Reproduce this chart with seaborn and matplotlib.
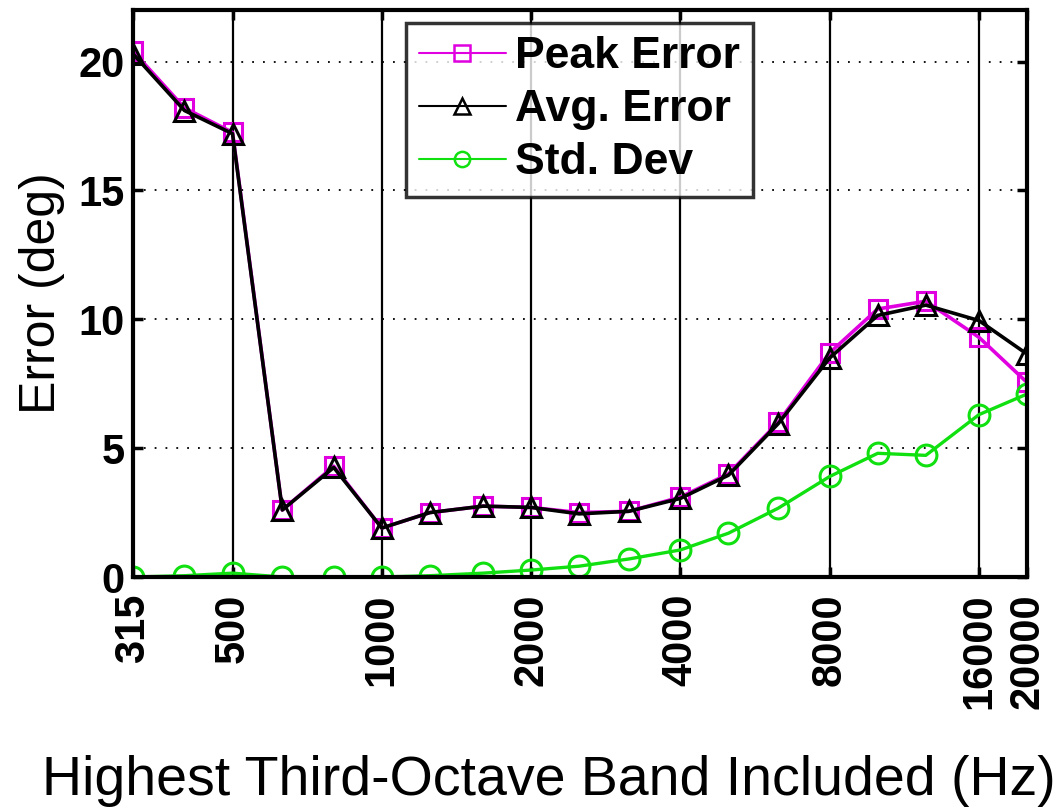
import matplotlib
matplotlib.use("Agg")
import matplotlib.pyplot as plt
from matplotlib.ticker import FixedLocator, NullLocator
import pandas as pd
import seaborn as sns

# Highest third-octave band centre frequency included (Hz)
bands = [315, 400, 500, 630, 800, 1000, 1250, 1600, 2000, 2500,
         3150, 4000, 5000, 6300, 8000, 10000, 12500, 16000, 20000]

peak_error = [20.4, 18.2, 17.25, 2.6, 4.3, 1.9, 2.5, 2.75, 2.7, 2.5,
              2.55, 3.1, 4.0, 6.0, 8.7, 10.4, 10.7, 9.3, 7.55]
avg_error = [20.3, 18.1, 17.2, 2.6, 4.25, 1.9, 2.5, 2.75, 2.7, 2.45,
             2.55, 3.05, 3.95, 5.95, 8.5, 10.15, 10.55, 9.95, 8.65]
std_dev = [0.0, 0.05, 0.15, 0.0, 0.0, 0.0, 0.05, 0.15, 0.27, 0.42,
           0.7, 1.05, 1.7, 2.67, 3.9, 4.8, 4.72, 6.3, 7.1]

xtick_values = [315, 500, 1000, 2000, 4000, 8000, 16000, 20000]
xtick_labels = ["315", "500", "1000", "2000", "4000", "8000", "16000", "20000"]
ytick_values = [0, 5, 10, 15, 20]
grid_freqs = [500, 1000, 2000, 4000, 8000, 16000]

df = pd.DataFrame({"band": bands, "peak": peak_error,
                   "avg": avg_error, "std": std_dev})

sns.set_style("white")
plt.rcParams["font.family"] = ["Liberation Sans", "DejaVu Sans"]
for key in ["text.color", "axes.labelcolor", "xtick.color", "ytick.color"]:
    plt.rcParams[key] = "black"

fig = plt.figure(figsize=(10.54, 8.07), dpi=100)
ax = fig.add_axes([0.1262, 0.285, 0.8482, 0.7026])

ax.set_xscale("log")
ax.set_xlim(315, 20000)
ax.set_ylim(0, 22)

# grid: solid verticals at octave bands, dotted horizontals
for f in grid_freqs:
    ax.axvline(f, color="black", lw=1.6, zorder=1)
for y in [5, 10, 15, 20]:
    ax.axhline(y, color="black", lw=1.3, ls=(0, (1, 5)), zorder=1)

magenta = "#e000e0"
green = "#10e010"

sns.lineplot(data=df, x="band", y="peak", ax=ax, color=magenta, lw=2.6,
             marker="s", markersize=13, markerfacecolor="none",
             markeredgecolor=magenta, markeredgewidth=2.2,
             label="Peak Error", zorder=3)
sns.lineplot(data=df, x="band", y="avg", ax=ax, color="black", lw=2.6,
             marker="^", markersize=15, markerfacecolor="none",
             markeredgecolor="black", markeredgewidth=2.2,
             label="Avg. Error", zorder=4)
sns.lineplot(data=df, x="band", y="std", ax=ax, color=green, lw=2.4,
             marker="o", markersize=15, markerfacecolor="none",
             markeredgecolor=green, markeredgewidth=2.2,
             label="Std. Dev", zorder=5)

ax.xaxis.set_major_locator(FixedLocator(xtick_values))
ax.xaxis.set_minor_locator(NullLocator())
ax.set_xticklabels(xtick_labels, rotation=90, fontsize=30, fontweight="bold")
ax.set_yticks(ytick_values)
ax.set_yticklabels([str(v) for v in ytick_values], fontsize=30, fontweight="bold")

ax.tick_params(axis="both", which="major", direction="in", length=7, width=2.5,
               top=True, right=True, bottom=True, left=True, pad=6)
ax.tick_params(axis="x", pad=12)

for s in ax.spines.values():
    s.set_visible(True)
    s.set_linewidth(3)
    s.set_color("black")
    s.set_zorder(6)

ax.set_xlabel("Highest Third-Octave Band Included (Hz)", fontsize=40)
ax.xaxis.set_label_coords(-0.1016, -0.385, transform=ax.transAxes)
ax.xaxis.label.set_horizontalalignment("left")
ax.xaxis.label.set_verticalalignment("baseline")
ax.set_ylabel("Error (deg)", fontsize=36, labelpad=10)

leg = ax.legend(loc="upper left", bbox_to_anchor=(0.305, 0.977), fontsize=32,
                frameon=True, fancybox=False, edgecolor="black",
                handlelength=1.95, handletextpad=0.2, borderpad=0.3,
                labelspacing=0.27, borderaxespad=0)
leg.get_frame().set_linewidth(2.5)
for t in leg.get_texts():
    t.set_fontweight("bold")
for h in leg.legend_handles:
    h.set_linewidth(1.5)
    h.set_markersize(11)
    h.set_markeredgewidth(1.8)

fig.savefig("out.png", dpi=100, facecolor="white")
